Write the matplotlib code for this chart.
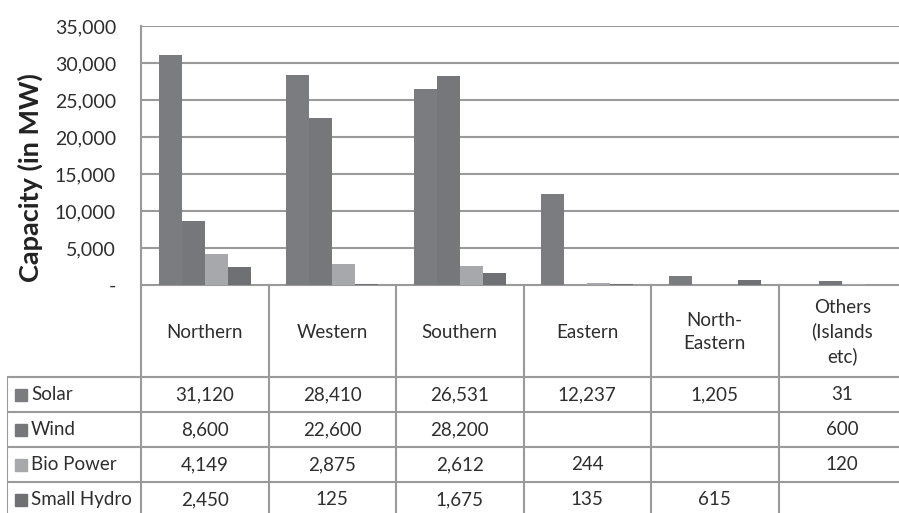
import matplotlib.pyplot as plt

plt.rcParams['font.family'] = ['Lato', 'DejaVu Sans']

# data
regions = ["Northern", "Western", "Southern", "Eastern", "North-\nEastern", "Others\n(Islands\netc)"]
sources = ["Solar", "Wind", "Bio Power", "Small Hydro"]
solar = [31120, 28410, 26531, 12237, 1205, 31]
wind = [8600, 22600, 28200, None, None, 600]
bio = [4149, 2875, 2612, 244, None, 120]
hydro = [2450, 125, 1675, 135, 615, None]
series = [solar, wind, bio, hydro]
colors = ["#7b7c80", "#76777b", "#a7a8ab", "#6f7074"]
yticks = [0, 5000, 10000, 15000, 20000, 25000, 30000, 35000]

W, H = 899, 513
fig = plt.figure(figsize=(W / 100, H / 100), dpi=100)

line_col = "#9a9a9a"
text_col = "#2e2e2e"

# bar chart area (right side runs off the picture like the source)
x0, x1, ytop, ybot = 141, 906, 26, 285
ax = fig.add_axes([x0 / W, 1 - ybot / H, (x1 - x0) / W, (ybot - ytop) / H])
n = len(regions)
bw = 0.18
for k, (vals, c) in enumerate(zip(series, colors)):
    xs = [i + (k - 1.5) * bw for i in range(n)]
    hs = [v if v is not None else 0 for v in vals]
    ax.bar(xs, hs, width=bw, color=c, zorder=3)
ax.set_xlim(-0.5, n - 0.5)
ax.set_ylim(0, 35000)
ax.set_yticks(yticks)
ax.set_yticklabels(["-" if t == 0 else f"{t:,}" for t in yticks], fontsize=14, color=text_col)
ax.tick_params(axis='y', length=0, pad=18)
ax.set_xticks([])
ax.grid(axis='y', color=line_col, linewidth=1.5, zorder=0)
for s in ["top", "right", "bottom"]:
    ax.spines[s].set_visible(False)
ax.spines["left"].set_color(line_col)
ax.spines["left"].set_linewidth(1.5)
fig.text(30 / W, 1 - 178 / H, "Capacity (in MW)", rotation=90, fontsize=19.5, fontweight='bold',
         color="#222222", ha='center', va='center')

# data table below the bars
unit = (x1 - x0) / n
tl = 7
tbot = 517
tax = fig.add_axes([tl / W, 1 - tbot / H, (x1 - tl) / W, (tbot - ybot) / H])
left = -0.5 - (x0 - tl) / unit
tax.set_xlim(left, n - 0.5)
tax.set_ylim(tbot, ybot)
tax.axis('off')
head_bot = 377
row_h = 35
rows_y = [head_bot + r * row_h for r in range(len(sources) + 1)]

lw = 1.5
tax.hlines(ybot, -0.5, n - 0.5, color=line_col, lw=lw)
for i in range(n + 1):
    tax.vlines(i - 0.5, ybot, tbot, color=line_col, lw=lw)
tax.vlines(left, head_bot, tbot, color=line_col, lw=lw)
for y in rows_y:
    tax.hlines(y, left, n - 0.5, color=line_col, lw=lw)

for i, name in enumerate(regions):
    tax.text(i, (ybot + head_bot) / 2 + 1, name, ha='center', va='center', fontsize=13.5,
             color=text_col, linespacing=1.45)

for r, (name, vals, c) in enumerate(zip(sources, series, colors)):
    yc = rows_y[r] + row_h / 2
    tax.plot(left + 14 / unit, yc, marker='s', markersize=8, color=c, clip_on=False)
    tax.text(left + 24 / unit, yc, name, ha='left', va='center', fontsize=13.5, color=text_col)
    for i, v in enumerate(vals):
        if v is not None:
            tax.text(i, yc, f"{v:,}", ha='center', va='center', fontsize=13.5, color=text_col)

fig.savefig("out.png", dpi=100)
